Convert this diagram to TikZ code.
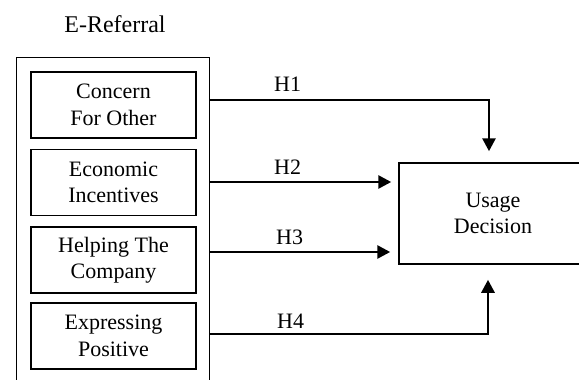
\documentclass[tikz,border=0pt]{standalone}
\usepackage{fontspec}
\setmainfont{Liberation Serif}
\usetikzlibrary{arrows.meta}
\begin{document}
\begin{tikzpicture}[x=1pt,y=-1pt,
  every node/.style={font=\fontsize{22}{26.5}\selectfont},
  factor/.style={draw,line width=1.5pt,minimum width=165pt,minimum height=66pt,align=center,inner sep=0pt},
  conn/.style={line width=2.8pt,-{Triangle[length=13pt,width=13pt]}},
  hlabel/.style={anchor=base west,inner sep=0pt}]
\useasboundingbox (0,0) rectangle (579,380);
\node[font=\fontsize{24}{28}\selectfont] (title) at (115,24) {E-Referral};
\node[draw,line width=1.4pt,anchor=north west,minimum width=193pt,minimum height=345pt,inner sep=0pt] (outer) at (16,57) {};
\node[factor] (f1) at (113.5,105) {Concern\\For Other};
\node[factor] (f2) at (113.5,182.5) {Economic\\Incentives};
\node[factor] (f3) at (113.5,260) {Helping The\\Company};
\node[factor] (f4) at (113.5,336) {Expressing\\Positive};
\node[draw,line width=1.5pt,minimum width=188pt,minimum height=101pt,align=center,inner sep=0pt] (usage) at (493,213.5) {Usage\\Decision};
\coordinate (s1) at (209,100);
\coordinate (s2) at (209,182);
\coordinate (s3) at (209,252);
\coordinate (s4) at (209,334);
\coordinate (k1) at (489,100);
\coordinate (k4) at (488,334);
\draw[conn,shorten >=11pt] (s1) -- (k1) -- (usage.north -| k1);
\draw[conn,shorten >=7pt] (s2) -- (usage.west |- s2);
\draw[conn,shorten >=8pt] (s3) -- (usage.west |- s3);
\draw[conn,shorten >=15pt] (s4) -- (k4) -- (usage.south -| k4);
\node[hlabel] (h1) at (274,91) {H1};
\node[hlabel] (h2) at (274,174) {H2};
\node[hlabel] (h3) at (276,244) {H3};
\node[hlabel] (h4) at (277,328) {H4};
\end{tikzpicture}
\end{document}
